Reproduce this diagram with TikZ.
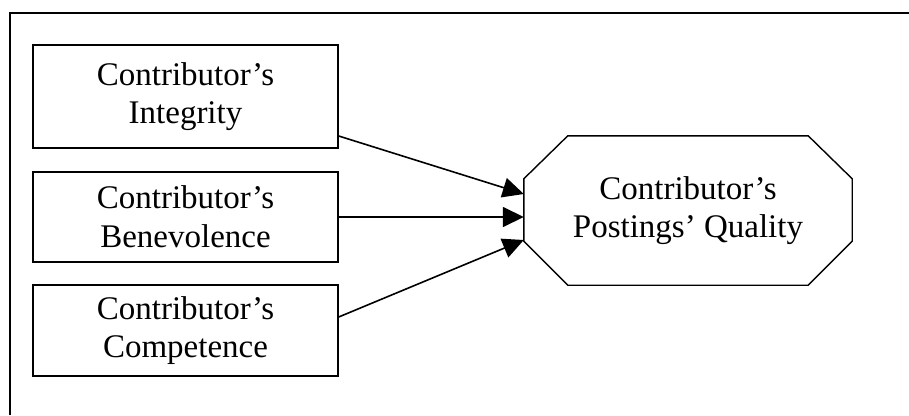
\documentclass[tikz,border=0pt]{standalone}
\usepackage{fontspec}
\setmainfont{Liberation Serif}
\usetikzlibrary{positioning}
\usetikzlibrary{arrows.meta}
\tikzset{
    mybox/.style = {rectangle, draw=black, line width=1.4pt, align=center, fill=white, minimum width=305pt, inner sep=0pt},
    myoct/.style = {rectangle, align=center, minimum width=328pt, minimum height=149pt, inner sep=0pt},
    octline/.style = {line width=1.4pt, black, line join=miter},
    edgen/.style = {-{Triangle[length=21pt,width=20pt]}, line width=1.6pt, black},
    framen/.style = {line width=2.4pt, black},
    every node/.style = {font=\fontsize{33}{38.7}\selectfont}
}
\begin{document}
\begin{tikzpicture}[x=1pt,y=-1pt]
\useasboundingbox (0,0) rectangle (909,415);
\draw[framen] (10,415) -- (10,13) -- (909,13);

\node[mybox, minimum height=103pt] at (185.5, 96.5) (int) {Contributor’s\\Integrity};
\node[mybox, minimum height=90pt]  at (185.5,217.0) (ben) {Contributor’s\\Benevolence};
\node[mybox, minimum height=91pt]  at (185.5,330.5) (com) {Contributor’s\\Competence};
\node[myoct] at (688,210.5) (qual) {Contributor’s\\Postings’ Quality};

% octagon outline
\draw[octline] ([xshift=44pt]qual.north west) -- ([xshift=-44pt]qual.north east)
  -- ([yshift=-43pt]qual.north east) -- ([yshift=44pt]qual.south east)
  -- ([xshift=-44pt]qual.south east) -- ([xshift=44pt]qual.south west)
  -- ([yshift=44pt]qual.south west) -- ([yshift=-43pt]qual.north west) -- cycle;

\draw[edgen] ([yshift=-39.5pt]int.east) -- ([yshift=16.5pt]qual.west);
\draw[edgen] (ben.east) -- ([yshift=-6.5pt]qual.west);
\draw[edgen] ([yshift=13.5pt]com.east) -- ([yshift=-29.5pt]qual.west);

\end{tikzpicture}
\end{document}
